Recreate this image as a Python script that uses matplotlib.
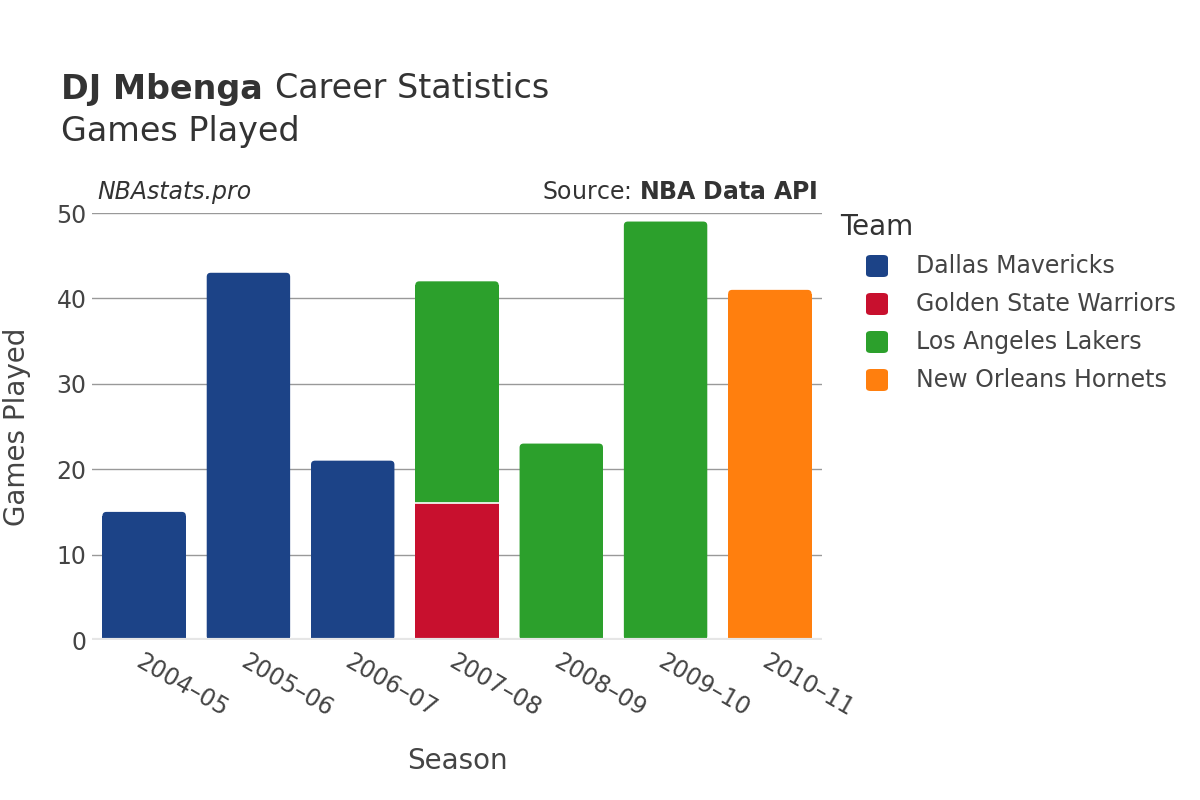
import matplotlib
matplotlib.use("Agg")
import matplotlib.pyplot as plt
from matplotlib.patches import FancyBboxPatch
import numpy as np

seasons = ["2004–05", "2005–06", "2006–07", "2007–08", "2008–09", "2009–10", "2010–11"]
teams = ["Dallas Mavericks", "Golden State Warriors", "Los Angeles Lakers", "New Orleans Hornets"]
colors = ["#1c4387", "#c8102e", "#2ca02c", "#ff7f0e"]
games = {
    "Dallas Mavericks":      [15, 43, 21, 0, 0, 0, 0],
    "Golden State Warriors": [0, 0, 0, 16, 0, 0, 0],
    "Los Angeles Lakers":    [0, 0, 0, 26, 23, 49, 0],
    "New Orleans Hornets":   [0, 0, 0, 0, 0, 0, 41],
}

plt.rcParams['font.family'] = ['DejaVu Sans']
fig = plt.figure(figsize=(12, 8), dpi=100)
ax = fig.add_axes([92/1200, 160/800, 730/1200, 427/800])
ax.set_xlim(-0.5, len(seasons) - 0.5)
ax.set_ylim(0, 50)

x = np.arange(len(seasons))
totals = np.sum([games[t] for t in teams], axis=0)
bottom = np.zeros(len(seasons))
width = 0.8
rx = 4 / (730 / len(seasons))
ry = 4 / (427 / 50)
for team, col in zip(teams, colors):
    vals = np.array(games[team], dtype=float)
    for xi, v, b in zip(x, vals, bottom):
        if v <= 0:
            continue
        if b + v >= totals[xi]:
            p = FancyBboxPatch((xi - width / 2, b), width, v,
                               boxstyle=f"round,pad=0,rounding_size={rx}",
                               mutation_aspect=ry / rx, facecolor=col, edgecolor='none', zorder=3)
            ax.add_patch(p)
            ax.bar(xi, v - ry, width=width, bottom=b, color=col, edgecolor='none', zorder=3)
            if b > 0:
                ax.plot([xi - width / 2, xi + width / 2], [b, b], color='white', lw=1.2, zorder=4)
        else:
            ax.bar(xi, v, width=width, bottom=b, color=col, edgecolor='none', zorder=3)
    bottom += vals

ax.set_yticks([0, 10, 20, 30, 40, 50])
ax.yaxis.grid(True, color='#999999', linewidth=1, zorder=0)
ax.axhline(0, color='#e6e6e6', linewidth=3, zorder=4)
for s in ax.spines.values():
    s.set_visible(False)
ax.tick_params(axis='both', length=0, labelsize=17, colors='#444444')
ax.set_xticks(x)
ax.set_xticklabels(seasons, rotation=-30, ha='left', rotation_mode='anchor')
ax.tick_params(axis='x', pad=7)
ax.tick_params(axis='y', pad=4)
ax.set_xlabel("Season", fontsize=20, color='#444444', labelpad=18)
ax.set_ylabel("Games Played", fontsize=20, color='#444444', labelpad=18)

t1 = fig.text(61/1200, 1 - 89/800, "DJ Mbenga", fontsize=24, fontweight='bold', color='#333333', va='center')
fig.canvas.draw()
bb = t1.get_window_extent()
fig.text(bb.x1/1200 + 12/1200, 1 - 89/800, "Career Statistics", fontsize=24, color='#333333', va='center')
fig.text(61/1200, 1 - 132/800, "Games Played", fontsize=24, color='#333333', va='center')

fig.text(97/1200, 1 - 192/800, "NBAstats.pro", fontsize=17, style='italic', color='#333333', va='center')
fig.text(818/1200, 1 - 192/800, "Source: $\\bf{NBA\\ Data\\ API}$", fontsize=17, color='#333333', va='center', ha='right')

fig.text(840/1200, 1 - 227/800, "Team", fontsize=20, color='#333333', va='center')
for i, (team, col) in enumerate(zip(teams, colors)):
    yc = 1 - (266 + i * 38) / 800
    p = FancyBboxPatch((866/1200, yc - 11/800), 22/1200, 22/800,
                       boxstyle="round,pad=0,rounding_size=0.004", transform=fig.transFigure,
                       facecolor=col, edgecolor='none')
    fig.patches.append(p)
    fig.text(916/1200, yc, team, fontsize=17, color='#444444', va='center')

fig.savefig("out.png", dpi=100)
